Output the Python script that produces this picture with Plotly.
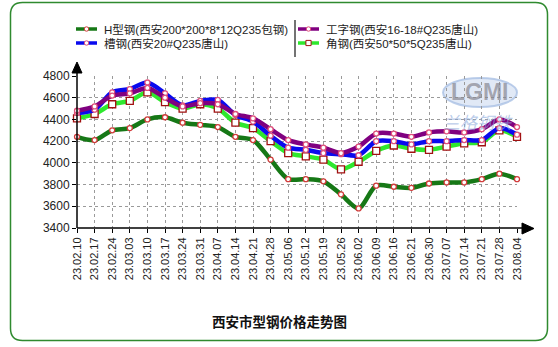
import plotly.graph_objects as go

# Weekly dates (yy.mm.dd)
dates = ["23.02.10", "23.02.17", "23.02.24", "23.03.03", "23.03.10", "23.03.17",
         "23.03.24", "23.03.31", "23.04.07", "23.04.14", "23.04.21", "23.04.28",
         "23.05.06", "23.05.12", "23.05.19", "23.05.26", "23.06.02", "23.06.09",
         "23.06.16", "23.06.21", "23.06.30", "23.07.07", "23.07.14", "23.07.21",
         "23.07.28", "23.08.04"]

# Prices, yuan/ton
h_beam = [4240, 4210, 4300, 4320, 4400, 4420, 4370, 4350, 4330, 4240, 4210, 4030,
          3850, 3850, 3830, 3710, 3580, 3790, 3780, 3770, 3810, 3820, 3820, 3850,
          3900, 3850]
i_beam = [4480, 4520, 4620, 4640, 4690, 4600, 4520, 4550, 4540, 4450, 4410, 4310,
          4210, 4170, 4140, 4090, 4150, 4270, 4270, 4240, 4280, 4290, 4280, 4310,
          4400, 4330]
channel = [4460, 4490, 4650, 4680, 4740, 4640, 4530, 4570, 4580, 4440, 4380, 4250,
           4140, 4120, 4090, 4080, 4070, 4200, 4200, 4170, 4200, 4200, 4210, 4210,
           4320, 4260]
angle = [4410, 4450, 4540, 4570, 4650, 4560, 4500, 4540, 4500, 4370, 4320, 4200,
         4090, 4060, 4030, 3940, 4010, 4110, 4160, 4130, 4120, 4150, 4180, 4190,
         4300, 4240]

names = ["H型钢(西安200*200*8*12Q235包钢)", "槽钢(西安20#Q235唐山)",
         "工字钢(西安16-18#Q235唐山)", "角钢(西安50*50*5Q235唐山)"]
y_ticks = [3400, 3600, 3800, 4000, 4200, 4400, 4600, 4800]

W, H = 558, 347
L, R, T, B = 77, 41, 76, 119
PW, PH = W - L - R, H - T - B

def px(x):
    return (x - L) / PW

def py(y):
    return (H - B - y) / PH

FONT = "Liberation Sans, Arial, Noto Sans CJK SC"
xs = list(range(len(dates)))

C_H, C_CH, C_I, C_A = "#167816", "#0a0aee", "#800080", "#2ee82e"

fig = go.Figure()

def add_line(vals, color, msym, msize, mline, name):
    fig.add_trace(go.Scatter(
        x=xs, y=vals, mode="lines+markers", name=name,
        line=dict(color=color, width=4.5, shape="spline", smoothing=0.8),
        marker=dict(symbol=msym, size=msize, color="white",
                    line=dict(color=mline, width=1.3)),
        cliponaxis=False, showlegend=False))

add_line(h_beam, C_H, "circle", 5, "#d23c3c", names[0])
add_line(angle, C_A, "square", 7, "#a01010", names[3])
add_line(channel, C_CH, "circle", 5, "#e0507a", names[1])
add_line(i_beam, C_I, "circle", 5, "#e0507a", names[2])

shapes = []
ann = []

def note(x, y, text, size, color, family=FONT, xanchor="center"):
    ann.append(dict(x=px(x), y=py(y), xref="paper", yref="paper", text=text,
                    showarrow=False, xanchor=xanchor, yanchor="middle",
                    font=dict(family=family, size=size, color=color)))

# outer rounded frame
x0, x1, y0, y1, r = 10.5, 547.5, 2.5, 340.5, 12
path = (f"M {px(x0+r)},{py(y0)} L {px(x1-r)},{py(y0)} Q {px(x1)},{py(y0)} {px(x1)},{py(y0+r)} "
        f"L {px(x1)},{py(y1-r)} Q {px(x1)},{py(y1)} {px(x1-r)},{py(y1)} "
        f"L {px(x0+r)},{py(y1)} Q {px(x0)},{py(y1)} {px(x0)},{py(y1-r)} "
        f"L {px(x0)},{py(y0+r)} Q {px(x0)},{py(y0)} {px(x0+r)},{py(y0)} Z")
shapes.append(dict(type="path", xref="paper", yref="paper", path=path,
                   line=dict(color="#2f8a2f", width=1.5), layer="below"))

# watermark
shapes.append(dict(type="circle", xref="paper", yref="paper",
                   x0=px(443), x1=px(517), y0=py(78), y1=py(107),
                   fillcolor="rgba(205,218,240,0.6)",
                   line=dict(color="rgba(160,185,225,0.7)", width=2), layer="below"))
note(480, 92, "<b>LGMI</b>", 23, "rgba(135,135,145,0.7)")
note(478, 121, "<i>兰格钢铁</i>", 17, "rgba(140,170,220,0.6)", family="Noto Sans CJK SC")

# axes extensions with arrows
shapes.append(dict(type="line", xref="paper", yref="paper", x0=px(77), x1=px(77),
                   y0=py(228), y1=py(68), line=dict(color="black", width=1.5)))
shapes.append(dict(type="path", xref="paper", yref="paper",
                   path=f"M {px(72)},{py(73)} L {px(82)},{py(73)} L {px(77)},{py(62)} Z",
                   fillcolor="black", line=dict(color="black", width=1)))
shapes.append(dict(type="line", xref="paper", yref="paper", x0=px(77), x1=px(525),
                   y0=py(228), y1=py(228), line=dict(color="black", width=1.5)))
shapes.append(dict(type="path", xref="paper", yref="paper",
                   path=f"M {px(522)},{py(223)} L {px(522)},{py(234)} L {px(534)},{py(228.5)} Z",
                   fillcolor="black", line=dict(color="black", width=1)))

# legend
legend_items = [
    (names[0], C_H, 76, 29, "circle", "#d23c3c"),
    (names[1], C_CH, 76, 43, "circle", "#e0507a"),
    (names[2], C_I, 298, 29, "circle", "#e0507a"),
    (names[3], C_A, 298, 43, "square", "#a01010"),
]
for text, color, lx, ly, sym, mc in legend_items:
    shapes.append(dict(type="line", xref="paper", yref="paper", x0=px(lx), x1=px(lx + 21),
                       y0=py(ly), y1=py(ly), line=dict(color=color, width=3.5)))
    cx = lx + 10.5
    s = 2.2 if sym == "circle" else 2.6
    shapes.append(dict(type="circle" if sym == "circle" else "rect", xref="paper", yref="paper",
                       x0=px(cx - s), x1=px(cx + s), y0=py(ly - s), y1=py(ly + s),
                       fillcolor="white", line=dict(color=mc, width=1)))
    note(lx + 26, ly, text, 11.5, "#222", xanchor="left")
shapes.append(dict(type="line", xref="paper", yref="paper", x0=px(295), x1=px(295),
                   y0=py(20), y1=py(57), line=dict(color="#444", width=1.5)))

# title
note(279, 321, "<b>西安市型钢价格走势图</b>", 13.5, "#111", family="Noto Sans CJK SC")

fig.update_layout(
    width=W, height=H, margin=dict(l=L, r=R, t=T, b=B),
    paper_bgcolor="white", plot_bgcolor="white",
    shapes=shapes, annotations=ann,
    xaxis=dict(range=[0, len(dates) - 1], tickmode="array", tickvals=xs, ticktext=dates,
               tickangle=-90, ticks="outside", ticklen=4, tickcolor="black",
               showgrid=True, gridcolor="#9a9a9a", griddash="dot", gridwidth=1,
               zeroline=False, showline=False,
               tickfont=dict(family=FONT, size=11, color="#222")),
    yaxis=dict(range=[3400, 4800], tickmode="array", tickvals=y_ticks,
               ticks="outside", ticklen=4, tickcolor="black",
               showgrid=True, gridcolor="#9a9a9a", griddash="dot", gridwidth=1,
               zeroline=False, showline=False,
               tickfont=dict(family=FONT, size=12, color="#222")),
)

fig.write_html("out.html")
